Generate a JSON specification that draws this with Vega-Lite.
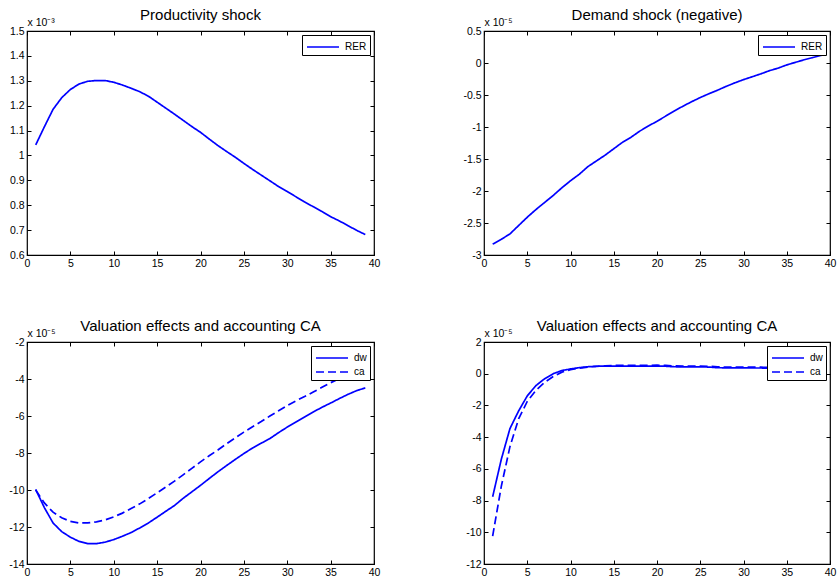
{
  "$schema": "https://vega.github.io/schema/vega-lite/v6.json",
  "padding": {"left": 8, "top": 7, "right": 0, "bottom": 0},
  "background": "white",
  "datasets": {
    "p1": [
      {"t":1,"v":1.042,"s":"RER"},{"t":2,"v":1.115,"s":"RER"},{"t":3,"v":1.185,"s":"RER"},{"t":4,"v":1.232,"s":"RER"},{"t":5,"v":1.265,"s":"RER"},
      {"t":6,"v":1.287,"s":"RER"},{"t":7,"v":1.298,"s":"RER"},{"t":8,"v":1.301,"s":"RER"},{"t":9,"v":1.301,"s":"RER"},{"t":10,"v":1.294,"s":"RER"},
      {"t":11,"v":1.283,"s":"RER"},{"t":12,"v":1.270,"s":"RER"},{"t":13,"v":1.256,"s":"RER"},{"t":14,"v":1.238,"s":"RER"},{"t":15,"v":1.214,"s":"RER"},
      {"t":16,"v":1.190,"s":"RER"},{"t":17,"v":1.166,"s":"RER"},{"t":18,"v":1.141,"s":"RER"},{"t":19,"v":1.116,"s":"RER"},{"t":20,"v":1.093,"s":"RER"},
      {"t":21,"v":1.066,"s":"RER"},{"t":22,"v":1.040,"s":"RER"},{"t":23,"v":1.016,"s":"RER"},{"t":24,"v":0.993,"s":"RER"},{"t":25,"v":0.968,"s":"RER"},
      {"t":26,"v":0.944,"s":"RER"},{"t":27,"v":0.921,"s":"RER"},{"t":28,"v":0.898,"s":"RER"},{"t":29,"v":0.875,"s":"RER"},{"t":30,"v":0.855,"s":"RER"},
      {"t":31,"v":0.834,"s":"RER"},{"t":32,"v":0.813,"s":"RER"},{"t":33,"v":0.794,"s":"RER"},{"t":34,"v":0.775,"s":"RER"},{"t":35,"v":0.754,"s":"RER"},
      {"t":36,"v":0.737,"s":"RER"},{"t":37,"v":0.718,"s":"RER"},{"t":38,"v":0.699,"s":"RER"},{"t":39,"v":0.682,"s":"RER"}
    ],
    "p2": [
      {"t":1,"v":-2.83,"s":"RER"},{"t":2,"v":-2.755,"s":"RER"},{"t":3,"v":-2.67,"s":"RER"},{"t":4,"v":-2.54,"s":"RER"},{"t":5,"v":-2.41,"s":"RER"},
      {"t":6,"v":-2.29,"s":"RER"},{"t":7,"v":-2.18,"s":"RER"},{"t":8,"v":-2.07,"s":"RER"},{"t":9,"v":-1.95,"s":"RER"},{"t":10,"v":-1.84,"s":"RER"},
      {"t":11,"v":-1.74,"s":"RER"},{"t":12,"v":-1.62,"s":"RER"},{"t":13,"v":-1.53,"s":"RER"},{"t":14,"v":-1.44,"s":"RER"},{"t":15,"v":-1.34,"s":"RER"},
      {"t":16,"v":-1.24,"s":"RER"},{"t":17,"v":-1.16,"s":"RER"},{"t":18,"v":-1.065,"s":"RER"},{"t":19,"v":-0.985,"s":"RER"},{"t":20,"v":-0.91,"s":"RER"},
      {"t":21,"v":-0.83,"s":"RER"},{"t":22,"v":-0.75,"s":"RER"},{"t":23,"v":-0.675,"s":"RER"},{"t":24,"v":-0.605,"s":"RER"},{"t":25,"v":-0.54,"s":"RER"},
      {"t":26,"v":-0.48,"s":"RER"},{"t":27,"v":-0.425,"s":"RER"},{"t":28,"v":-0.365,"s":"RER"},{"t":29,"v":-0.31,"s":"RER"},{"t":30,"v":-0.26,"s":"RER"},
      {"t":31,"v":-0.215,"s":"RER"},{"t":32,"v":-0.17,"s":"RER"},{"t":33,"v":-0.12,"s":"RER"},{"t":34,"v":-0.08,"s":"RER"},{"t":35,"v":-0.03,"s":"RER"},
      {"t":36,"v":0.01,"s":"RER"},{"t":37,"v":0.05,"s":"RER"},{"t":38,"v":0.085,"s":"RER"},{"t":39,"v":0.12,"s":"RER"}
    ],
    "p3": [
      {"t":1,"v":-9.97,"s":"dw"},{"t":2,"v":-10.95,"s":"dw"},{"t":3,"v":-11.78,"s":"dw"},{"t":4,"v":-12.25,"s":"dw"},{"t":5,"v":-12.55,"s":"dw"},
      {"t":6,"v":-12.78,"s":"dw"},{"t":7,"v":-12.9,"s":"dw"},{"t":8,"v":-12.9,"s":"dw"},{"t":9,"v":-12.82,"s":"dw"},{"t":10,"v":-12.68,"s":"dw"},
      {"t":11,"v":-12.5,"s":"dw"},{"t":12,"v":-12.3,"s":"dw"},{"t":13,"v":-12.05,"s":"dw"},{"t":14,"v":-11.78,"s":"dw"},{"t":15,"v":-11.47,"s":"dw"},
      {"t":16,"v":-11.15,"s":"dw"},{"t":17,"v":-10.84,"s":"dw"},{"t":18,"v":-10.45,"s":"dw"},{"t":19,"v":-10.1,"s":"dw"},{"t":20,"v":-9.75,"s":"dw"},
      {"t":21,"v":-9.38,"s":"dw"},{"t":22,"v":-9.02,"s":"dw"},{"t":23,"v":-8.68,"s":"dw"},{"t":24,"v":-8.35,"s":"dw"},{"t":25,"v":-8.03,"s":"dw"},
      {"t":26,"v":-7.73,"s":"dw"},{"t":27,"v":-7.47,"s":"dw"},{"t":28,"v":-7.22,"s":"dw"},{"t":29,"v":-6.9,"s":"dw"},{"t":30,"v":-6.6,"s":"dw"},
      {"t":31,"v":-6.33,"s":"dw"},{"t":32,"v":-6.05,"s":"dw"},{"t":33,"v":-5.78,"s":"dw"},{"t":34,"v":-5.53,"s":"dw"},{"t":35,"v":-5.3,"s":"dw"},
      {"t":36,"v":-5.06,"s":"dw"},{"t":37,"v":-4.83,"s":"dw"},{"t":38,"v":-4.63,"s":"dw"},{"t":39,"v":-4.48,"s":"dw"},
      {"t":1,"v":-10.0,"s":"ca"},{"t":2,"v":-10.7,"s":"ca"},{"t":3,"v":-11.2,"s":"ca"},{"t":4,"v":-11.5,"s":"ca"},{"t":5,"v":-11.7,"s":"ca"},
      {"t":6,"v":-11.78,"s":"ca"},{"t":7,"v":-11.78,"s":"ca"},{"t":8,"v":-11.72,"s":"ca"},{"t":9,"v":-11.62,"s":"ca"},{"t":10,"v":-11.45,"s":"ca"},
      {"t":11,"v":-11.25,"s":"ca"},{"t":12,"v":-11.0,"s":"ca"},{"t":13,"v":-10.75,"s":"ca"},{"t":14,"v":-10.46,"s":"ca"},{"t":15,"v":-10.15,"s":"ca"},
      {"t":16,"v":-9.84,"s":"ca"},{"t":17,"v":-9.52,"s":"ca"},{"t":18,"v":-9.18,"s":"ca"},{"t":19,"v":-8.83,"s":"ca"},{"t":20,"v":-8.48,"s":"ca"},
      {"t":21,"v":-8.15,"s":"ca"},{"t":22,"v":-7.84,"s":"ca"},{"t":23,"v":-7.5,"s":"ca"},{"t":24,"v":-7.18,"s":"ca"},{"t":25,"v":-6.87,"s":"ca"},
      {"t":26,"v":-6.58,"s":"ca"},{"t":27,"v":-6.3,"s":"ca"},{"t":28,"v":-6.0,"s":"ca"},{"t":29,"v":-5.72,"s":"ca"},{"t":30,"v":-5.43,"s":"ca"},
      {"t":31,"v":-5.18,"s":"ca"},{"t":32,"v":-4.95,"s":"ca"},{"t":33,"v":-4.7,"s":"ca"},{"t":34,"v":-4.45,"s":"ca"},{"t":35,"v":-4.2,"s":"ca"},
      {"t":36,"v":-3.98,"s":"ca"},{"t":37,"v":-3.77,"s":"ca"},{"t":38,"v":-3.57,"s":"ca"},{"t":39,"v":-3.4,"s":"ca"}
    ],
    "p4": [
      {"t":1,"v":-7.76,"s":"dw"},{"t":2,"v":-5.4,"s":"dw"},{"t":3,"v":-3.46,"s":"dw"},{"t":4,"v":-2.35,"s":"dw"},{"t":5,"v":-1.4,"s":"dw"},
      {"t":6,"v":-0.75,"s":"dw"},{"t":7,"v":-0.32,"s":"dw"},{"t":8,"v":0.0,"s":"dw"},{"t":9,"v":0.2,"s":"dw"},{"t":10,"v":0.3,"s":"dw"},
      {"t":11,"v":0.38,"s":"dw"},{"t":12,"v":0.44,"s":"dw"},{"t":13,"v":0.47,"s":"dw"},{"t":14,"v":0.48,"s":"dw"},{"t":15,"v":0.48,"s":"dw"},
      {"t":16,"v":0.48,"s":"dw"},{"t":17,"v":0.48,"s":"dw"},{"t":18,"v":0.48,"s":"dw"},{"t":19,"v":0.48,"s":"dw"},{"t":20,"v":0.48,"s":"dw"},
      {"t":21,"v":0.47,"s":"dw"},{"t":22,"v":0.44,"s":"dw"},{"t":23,"v":0.43,"s":"dw"},{"t":24,"v":0.43,"s":"dw"},{"t":25,"v":0.43,"s":"dw"},
      {"t":26,"v":0.42,"s":"dw"},{"t":27,"v":0.38,"s":"dw"},{"t":28,"v":0.37,"s":"dw"},{"t":29,"v":0.37,"s":"dw"},{"t":30,"v":0.37,"s":"dw"},
      {"t":31,"v":0.36,"s":"dw"},{"t":32,"v":0.36,"s":"dw"},{"t":33,"v":0.35,"s":"dw"},{"t":34,"v":0.35,"s":"dw"},{"t":35,"v":0.35,"s":"dw"},
      {"t":36,"v":0.34,"s":"dw"},{"t":37,"v":0.34,"s":"dw"},{"t":38,"v":0.34,"s":"dw"},{"t":39,"v":0.33,"s":"dw"},
      {"t":1,"v":-10.24,"s":"ca"},{"t":2,"v":-7.1,"s":"ca"},{"t":3,"v":-4.6,"s":"ca"},{"t":4,"v":-2.85,"s":"ca"},{"t":5,"v":-1.75,"s":"ca"},
      {"t":6,"v":-1.05,"s":"ca"},{"t":7,"v":-0.55,"s":"ca"},{"t":8,"v":-0.18,"s":"ca"},{"t":9,"v":0.1,"s":"ca"},{"t":10,"v":0.25,"s":"ca"},
      {"t":11,"v":0.35,"s":"ca"},{"t":12,"v":0.42,"s":"ca"},{"t":13,"v":0.46,"s":"ca"},{"t":14,"v":0.49,"s":"ca"},{"t":15,"v":0.52,"s":"ca"},
      {"t":16,"v":0.53,"s":"ca"},{"t":17,"v":0.53,"s":"ca"},{"t":18,"v":0.53,"s":"ca"},{"t":19,"v":0.53,"s":"ca"},{"t":20,"v":0.54,"s":"ca"},
      {"t":21,"v":0.52,"s":"ca"},{"t":22,"v":0.49,"s":"ca"},{"t":23,"v":0.48,"s":"ca"},{"t":24,"v":0.48,"s":"ca"},{"t":25,"v":0.48,"s":"ca"},
      {"t":26,"v":0.47,"s":"ca"},{"t":27,"v":0.43,"s":"ca"},{"t":28,"v":0.42,"s":"ca"},{"t":29,"v":0.42,"s":"ca"},{"t":30,"v":0.42,"s":"ca"},
      {"t":31,"v":0.41,"s":"ca"},{"t":32,"v":0.41,"s":"ca"},{"t":33,"v":0.4,"s":"ca"},{"t":34,"v":0.4,"s":"ca"},{"t":35,"v":0.4,"s":"ca"},
      {"t":36,"v":0.39,"s":"ca"},{"t":37,"v":0.39,"s":"ca"},{"t":38,"v":0.38,"s":"ca"},{"t":39,"v":0.38,"s":"ca"}
    ]
  },
  "columns": 2,
  "spacing": {"row": 87, "column": 110},
  "bounds": "flush",
  "resolve": {
    "scale": {"x": "independent", "y": "independent", "strokeDash": "independent"},
    "legend": {"strokeDash": "independent"}
  },
  "concat": [
    {
      "width": 347, "height": 224,
      "title": {"text": "Productivity shock"},
      "data": {"name": "p1"},
      "layer": [
        {
          "mark": {"type": "line", "color": "#0000ff", "strokeWidth": 1.7},
          "encoding": {
            "x": {"field": "t", "type": "quantitative", "scale": {"domain": [0, 40], "nice": false}, "axis": {"values": [0,5,10,15,20,25,30,35,40], "title": null}},
            "y": {"field": "v", "type": "quantitative", "scale": {"domain": [0.6, 1.5], "nice": false, "zero": false}, "axis": {"values": [0.6,0.7,0.8,0.9,1.0,1.1,1.2,1.3,1.4,1.5], "title": "x 10⁻³"}},
            "strokeDash": {"field": "s", "type": "nominal", "scale": {"domain": ["RER"], "range": [[1, 0]]}, "legend": {"title": null}}
          }
        },
        {
          "mark": {"type": "line", "opacity": 0},
          "encoding": {
            "x": {"field": "t", "type": "quantitative", "axis": {"orient": "top", "labels": false, "title": null, "values": [0,5,10,15,20,25,30,35,40]}},
            "y": {"field": "v", "type": "quantitative", "axis": {"orient": "right", "labels": false, "title": null, "values": [0.6,0.7,0.8,0.9,1.0,1.1,1.2,1.3,1.4,1.5]}}
          }
        }
      ],
      "resolve": {"axis": {"x": "independent", "y": "independent"}}
    },
    {
      "width": 346, "height": 224,
      "title": {"text": "Demand shock (negative)"},
      "data": {"name": "p2"},
      "layer": [
        {
          "mark": {"type": "line", "color": "#0000ff", "strokeWidth": 1.7},
          "encoding": {
            "x": {"field": "t", "type": "quantitative", "scale": {"domain": [0, 40], "nice": false}, "axis": {"values": [0,5,10,15,20,25,30,35,40], "title": null}},
            "y": {"field": "v", "type": "quantitative", "scale": {"domain": [-3, 0.5], "nice": false, "zero": false}, "axis": {"values": [-3,-2.5,-2,-1.5,-1,-0.5,0,0.5], "title": "x 10⁻⁵"}},
            "strokeDash": {"field": "s", "type": "nominal", "scale": {"domain": ["RER"], "range": [[1, 0]]}, "legend": {"title": null}}
          }
        },
        {
          "mark": {"type": "line", "opacity": 0},
          "encoding": {
            "x": {"field": "t", "type": "quantitative", "axis": {"orient": "top", "labels": false, "title": null, "values": [0,5,10,15,20,25,30,35,40]}},
            "y": {"field": "v", "type": "quantitative", "axis": {"orient": "right", "labels": false, "title": null, "values": [-3,-2.5,-2,-1.5,-1,-0.5,0,0.5]}}
          }
        }
      ],
      "resolve": {"axis": {"x": "independent", "y": "independent"}}
    },
    {
      "width": 347, "height": 222,
      "title": {"text": "Valuation effects and accounting CA"},
      "data": {"name": "p3"},
      "layer": [
        {
          "mark": {"type": "line", "color": "#0000ff", "strokeWidth": 1.7},
          "encoding": {
            "x": {"field": "t", "type": "quantitative", "scale": {"domain": [0, 40], "nice": false}, "axis": {"values": [0,5,10,15,20,25,30,35,40], "title": null}},
            "y": {"field": "v", "type": "quantitative", "scale": {"domain": [-14, -2], "nice": false, "zero": false}, "axis": {"values": [-14,-12,-10,-8,-6,-4,-2], "title": "x 10⁻⁵"}},
            "strokeDash": {"field": "s", "type": "nominal", "scale": {"domain": ["dw", "ca"], "range": [[1, 0], [8, 4]]}, "legend": {"title": null}}
          }
        },
        {
          "mark": {"type": "line", "opacity": 0},
          "encoding": {
            "x": {"field": "t", "type": "quantitative", "axis": {"orient": "top", "labels": false, "title": null, "values": [0,5,10,15,20,25,30,35,40]}},
            "y": {"field": "v", "type": "quantitative", "axis": {"orient": "right", "labels": false, "title": null, "values": [-14,-12,-10,-8,-6,-4,-2]}},
            "detail": {"field": "s", "type": "nominal"}
          }
        }
      ],
      "resolve": {"axis": {"x": "independent", "y": "independent"}}
    },
    {
      "width": 346, "height": 222,
      "title": {"text": "Valuation effects and accounting CA"},
      "data": {"name": "p4"},
      "layer": [
        {
          "mark": {"type": "line", "color": "#0000ff", "strokeWidth": 1.7},
          "encoding": {
            "x": {"field": "t", "type": "quantitative", "scale": {"domain": [0, 40], "nice": false}, "axis": {"values": [0,5,10,15,20,25,30,35,40], "title": null}},
            "y": {"field": "v", "type": "quantitative", "scale": {"domain": [-12, 2], "nice": false, "zero": false}, "axis": {"values": [-12,-10,-8,-6,-4,-2,0,2], "title": "x 10⁻⁵"}},
            "strokeDash": {"field": "s", "type": "nominal", "scale": {"domain": ["dw", "ca"], "range": [[1, 0], [8, 4]]}, "legend": {"title": null}}
          }
        },
        {
          "mark": {"type": "line", "opacity": 0},
          "encoding": {
            "x": {"field": "t", "type": "quantitative", "axis": {"orient": "top", "labels": false, "title": null, "values": [0,5,10,15,20,25,30,35,40]}},
            "y": {"field": "v", "type": "quantitative", "axis": {"orient": "right", "labels": false, "title": null, "values": [-12,-10,-8,-6,-4,-2,0,2]}},
            "detail": {"field": "s", "type": "nominal"}
          }
        }
      ],
      "resolve": {"axis": {"x": "independent", "y": "independent"}}
    }
  ],
  "config": {
    "font": "Liberation Sans",
    "locale": {"number": {"decimal": ".", "thousands": ",", "grouping": [3], "currency": ["$", ""], "minus": "-"}},
    "view": {"stroke": "black", "strokeWidth": 1.2},
    "title": {"fontSize": 15, "fontWeight": "normal", "color": "black", "font": "Liberation Sans", "frame": "group", "offset": -6},
    "axis": {
      "grid": false, "domain": false, "tickColor": "black", "tickSize": -4, "tickWidth": 1,
      "labelColor": "black", "labelFontSize": 10.5, "labelFont": "Liberation Sans", "labelPadding": 7,
      "format": "~g", "labelFlush": false, "labelOverlap": false
    },
    "axisY": {
      "titleAngle": 0, "titleAlign": "left", "titleBaseline": "alphabetic", "titleX": 0, "titleY": -6,
      "titleFontSize": 10.5, "titleFontWeight": "normal", "titleColor": "black", "titleFont": "Liberation Sans"
    },
    "legend": {
      "orient": "top-right", "offset": 4, "strokeColor": "black", "fillColor": "white", "padding": 3,
      "symbolType": "M-2,0H2", "symbolSize": 256, "symbolOffset": 9, "labelOffset": 13,
      "symbolStrokeColor": "#0000ff", "symbolStrokeWidth": 1.7, "symbolFillColor": "transparent",
      "labelFontSize": 10, "labelColor": "black", "labelFont": "Liberation Sans", "rowPadding": 0
    }
  }
}
